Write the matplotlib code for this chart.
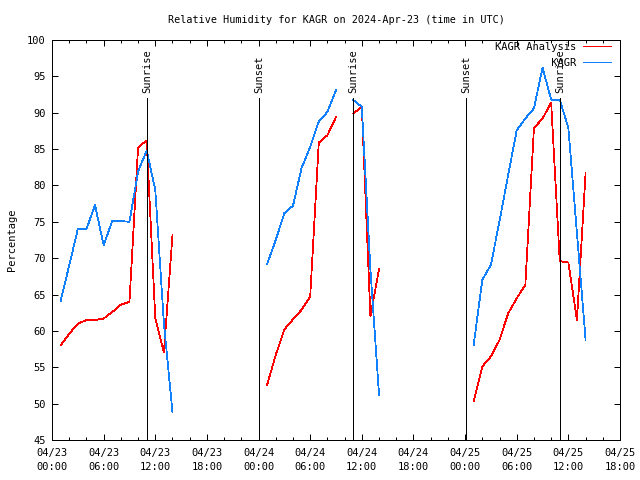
import numpy as np
import matplotlib
matplotlib.use("Agg")
import matplotlib.pyplot as plt
import matplotlib.dates as mdates
from matplotlib.lines import Line2D

# ---------------- data ----------------
start = np.datetime64("2024-04-23T00:00")
# hours after 04/23 00:00 UTC
hours = [1, 2, 3, 4, 5, 6, 7, 8, 9, 10, 11, 12, 13, 14,
         25, 26, 27, 28, 29, 30, 31, 32, 33,
         35, 36, 37, 38,
         49, 50, 51, 52, 53, 54, 55, 56, 57, 58, 59, 60, 61, 62]
analysis = [58.0, 59.6, 61.0, 61.5, 61.5, 61.7, 62.6, 63.6, 64.0, 85.2, 86.2, 61.8, 57.0, 73.2,
            52.6, 56.7, 60.2, 61.6, 62.9, 64.7, 85.9, 86.9, 89.4,
            89.9, 90.8, 62.0, 68.5,
            50.3, 55.1, 56.5, 58.75, 62.4, 64.5, 66.3, 87.9, 89.2, 91.4, 69.6, 69.4, 61.5, 81.7]
observed = [64.1, 69.0, 74.0, 74.0, 77.3, 71.8, 75.1, 75.1, 75.0, 81.9, 84.8, 79.4, 61.1, 48.8,
            69.2, 72.5, 76.2, 77.2, 82.4, 85.3, 88.8, 90.1, 93.1,
            91.75, 90.8, 68.4, 51.2,
            58.1, 67.0, 69.1, 75.1, 81.4, 87.6, 89.2, 90.6, 96.2, 91.8, 91.8, 87.9, 73.4, 58.8]
series_names = ["KAGR Analysis", "KAGR"]
series_colors = ["#ff0000", "#1080ff"]

# sun events (hours after 04/23 00:00 UTC)
sun_hours = [11.03, 24.05, 35.03, 48.08, 59.05]
sun_labels = ["Sunrise", "Sunset", "Sunrise", "Sunset", "Sunrise"]
sun_top = 92.0

title = "Relative Humidity for KAGR on 2024-Apr-23 (time in UTC)"
ylabel = "Percentage"
x_range_hours = 66
y_min, y_max, y_step = 45, 100, 5

# ---------------- plot ----------------
FONT = "DejaVu Sans Mono"
plt.rcParams["font.family"] = FONT
plt.rcParams["lines.antialiased"] = False
LW = 0.72
DLW = 0.55

fig = plt.figure(figsize=(6.4, 4.8), dpi=100)
ax = fig.add_axes([52 / 640, 40 / 480, 568 / 640, 400 / 480])

times = start + (np.array(hours) * 60).astype("timedelta64[m]")
h = np.array(hours, dtype=float)
breaks = np.where(np.diff(h) > 1.5)[0] + 1
segments = np.split(np.arange(len(h)), breaks)

handles = []
for vals, color in zip([analysis, observed], series_colors):
    v = np.array(vals, dtype=float)
    for seg in segments:
        ax.plot(times[seg].astype("datetime64[m]").astype(object), v[seg],
                color=color, lw=DLW, solid_joinstyle="miter")
    handles.append(Line2D([], [], color=color, lw=LW))

for sh, lab in zip(sun_hours, sun_labels):
    t = (start + np.timedelta64(int(round(sh * 60)), "m")).astype(object)
    ax.plot([t, t], [y_min, sun_top], color="black", lw=LW)
    ax.text(mdates.date2num(t), sun_top + 0.7, lab, rotation=90, ha="center",
            va="bottom", fontsize=7.5)

ax.set_xlim(start.astype(object), (start + np.timedelta64(x_range_hours, "h")).astype(object))
ax.set_ylim(y_min, y_max)
ax.set_yticks(np.arange(y_min, y_max + 0.1, y_step))

ax.xaxis.set_major_locator(mdates.HourLocator(byhour=range(0, 24, 6)))
ax.xaxis.set_minor_locator(mdates.HourLocator(byhour=range(0, 24, 2)))
ax.xaxis.set_major_formatter(mdates.DateFormatter("%m/%d\n%H:%M"))

ax.tick_params(which="both", direction="in", top=True, right=True, labelsize=7.5,
               width=LW, color="black")
ax.tick_params(which="major", length=4.5)
ax.tick_params(which="minor", length=2.5)
ax.tick_params(axis="y", pad=4.5)
ax.tick_params(axis="x", pad=5.5)
for lab in ax.get_xticklabels():
    lab.set_linespacing(1.55)
for s in ax.spines.values():
    s.set_linewidth(LW)
    s.set_antialiased(False)

fig.text(336 / 640, 1 - 20 / 480, title, ha="center", va="center", fontsize=7.3)
fig.text(12 / 640, 0.5, ylabel, rotation=90, ha="center", va="center", fontsize=7.5)

maxlen = max(len(n) for n in series_names)
labels = [n.rjust(maxlen) for n in series_names]
fs_px = 7.5 * 100 / 72
leg = fig.legend(handles, labels, loc="upper right",
                 bbox_to_anchor=(611 / 640, 1 - 42 / 480),
                 frameon=False, markerfirst=False, fontsize=7.5,
                 borderpad=0, borderaxespad=0,
                 handlelength=28 / fs_px, handletextpad=7 / fs_px,
                 labelspacing=5.5 / fs_px)

fig.savefig("out.png", dpi=100)
